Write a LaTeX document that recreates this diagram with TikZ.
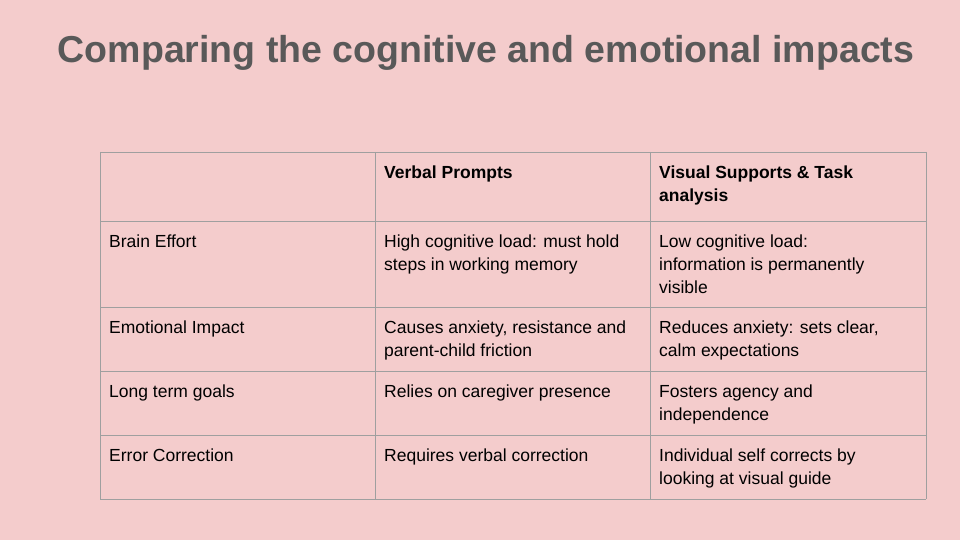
\documentclass[tikz,border=0pt]{standalone}
\usepackage{fontspec}
\setmainfont{Liberation Sans}
\begin{document}
\begin{tikzpicture}[x=1pt,y=-1pt,
 cell/.style={anchor=north west,inner sep=0pt,align=left,font=\fontsize{17.5}{23}\selectfont,text=black},
 grid/.style={draw=gray!75,line width=0.8pt}]
\definecolor{bg}{HTML}{F4CCCC}
\definecolor{tt}{HTML}{595959}
\fill[bg] (0,0) rectangle (960,540);
\useasboundingbox (0,0) rectangle (960,540);
\node[font=\fontsize{37.5}{42}\selectfont\bfseries,text=tt] (title) at (486,53) {Comparing the cognitive and emotional impacts};
\foreach \y in {152,221,307,371,435,499} \draw[grid] (100,\y) -- (926,\y);
\foreach \x in {100,375,650,926} \draw[grid] (\x,152) -- (\x,499);
\node[cell] (h2) at (384,166) {\bfseries Verbal Prompts};
\node[cell] (h3) at (659,166) {\bfseries Visual Supports \& Task\\\bfseries analysis};
\node[cell] (r1a) at (109,235) {Brain Effort};
\node[cell] (r1b) at (384,235) {High cognitive load: must hold\\steps in working memory};
\node[cell] (r1c) at (659,235) {Low cognitive load:\\information is permanently\\visible};
\node[cell] (r2a) at (109,321) {Emotional Impact};
\node[cell] (r2b) at (384,321) {Causes anxiety, resistance and\\parent-child friction};
\node[cell] (r2c) at (659,321) {Reduces anxiety: sets clear,\\calm expectations};
\node[cell] (r3a) at (109,385) {Long term goals};
\node[cell] (r3b) at (384,385) {Relies on caregiver presence};
\node[cell] (r3c) at (659,385) {Fosters agency and\\independence};
\node[cell] (r4a) at (109,449) {Error Correction};
\node[cell] (r4b) at (384,449) {Requires verbal correction};
\node[cell] (r4c) at (659,449) {Individual self corrects by\\looking at visual guide};
\end{tikzpicture}
\end{document}
